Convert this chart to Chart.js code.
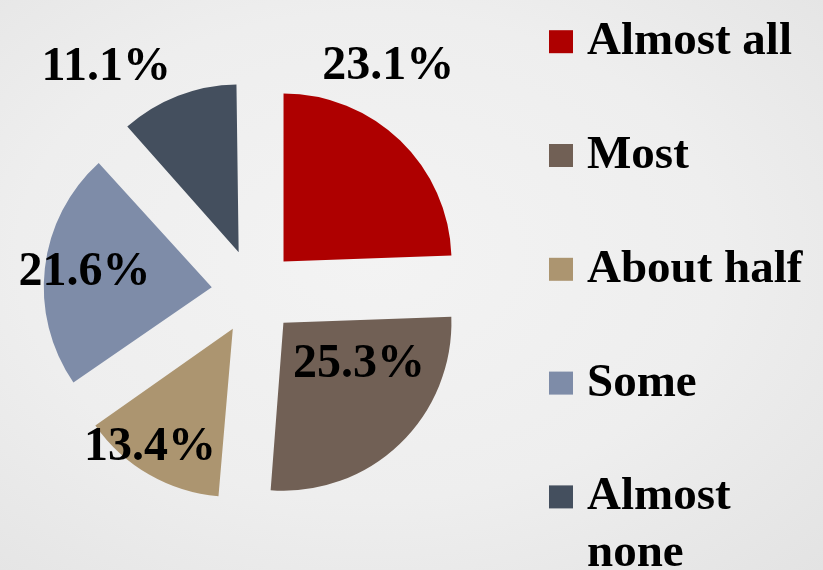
<!DOCTYPE html>
<html>
<head>
<meta charset="utf-8">
<script src="https://cdn.jsdelivr.net/npm/chart.js@4/dist/chart.umd.min.js"></script>
<style>
  html, body { margin: 0; padding: 0; }
  body {
    width: 823px; height: 570px; overflow: hidden;
    background: radial-gradient(ellipse at 45% 45%, #f3f3f3 0%, #eeeeee 55%, #e3e3e3 100%);
  }
  #wrap { position: relative; width: 823px; height: 570px; }
</style>
</head>
<body>
<div id="wrap"><canvas id="c" width="823" height="570"></canvas></div>
<script>
// ---- data ----
const categories = ["Almost all", "Most", "About half", "Some", "Almost none"];
const percentages = [23.1, 25.3, 13.4, 21.6, 11.1];
const legendLabels = [["Almost all"], ["Most"], ["About half"], ["Some"], ["Almost", "none"]];
const sliceColors = ["#AE0000", "#716055", "#AC9570", "#7E8CA8", "#444F5E"];

// ---- layout / style config ----
const LABEL_FONT = 'bold 48px "Liberation Serif", "Times New Roman", serif';
const LEGEND_FONT = 'bold 47px "Liberation Serif", "Times New Roman", serif';
const PIE_RADIUS = 168;
const EXPLODE = 170; // Chart.js translates arcs by offset/4
// label placement relative to pie centre: [radius factor, angle shift in degrees]
const labelPlacement = [[1.56, -13.2], [0.76, -11.6], [1.116, 3.8], [1.016, 0.1], [1.60, -12.2]];

const radiusFix = {
  id: 'radiusFix',
  afterDatasetsUpdate(chart) {
    const meta = chart.getDatasetMeta(0);
    meta.data.forEach(el => {
      const circ = el.endAngle - el.startAngle;
      const off = (el.options.offset || 0) / 4;
      const fix = 1 - Math.sin(Math.min(Math.PI, circ));
      el.outerRadius = PIE_RADIUS - off * fix;
    });
  }
};

const pctLabels = {
  id: 'pctLabels',
  afterDatasetsDraw(chart) {
    const ctx = chart.ctx;
    const meta = chart.getDatasetMeta(0);
    const vals = chart.data.datasets[0].data;
    ctx.save();
    ctx.font = LABEL_FONT;
    ctx.fillStyle = '#000';
    ctx.textAlign = 'center';
    ctx.textBaseline = 'middle';
    meta.data.forEach((el, i) => {
      const mid = (el.startAngle + el.endAngle) / 2 + labelPlacement[i][1] * Math.PI / 180;
      const r = labelPlacement[i][0] * PIE_RADIUS;
      const x = el.x + Math.cos(mid) * r;
      const y = el.y + Math.sin(mid) * r;
      ctx.fillText(vals[i].toFixed(1) + '%', x, y);
    });
    ctx.restore();
  }
};

const sideLegend = {
  id: 'sideLegend',
  afterDraw(chart) {
    const ctx = chart.ctx;
    const ds = chart.data.datasets[0];
    const x0 = 549, boxW = 24, boxH = 23, textX = 587;
    const firstCenter = 41.7, step = 113.8, lineH = 56.5;
    ctx.save();
    ctx.font = LEGEND_FONT;
    ctx.textAlign = 'left';
    ctx.textBaseline = 'alphabetic';
    legendLabels.forEach((lines, i) => {
      const cy = firstCenter + i * step;
      ctx.fillStyle = ds.backgroundColor[i];
      ctx.fillRect(x0, cy - boxH / 2, boxW, boxH);
      ctx.fillStyle = '#000';
      lines.forEach((t, k) => ctx.fillText(t, textX, cy + 12.5 + k * lineH));
    });
    ctx.restore();
  }
};

new Chart(document.getElementById('c'), {
  type: 'pie',
  data: {
    labels: categories,
    datasets: [{
      data: percentages,
      backgroundColor: sliceColors,
      borderWidth: 0,
      offset: EXPLODE
    }]
  },
  options: {
    responsive: false,
    animation: false,
    radius: PIE_RADIUS,
    layout: { padding: { left: 0, right: 315, top: 14, bottom: 0 } },
    plugins: {
      legend: { display: false },
      tooltip: { enabled: false }
    },
    events: []
  },
  plugins: [radiusFix, pctLabels, sideLegend]
});
</script>
</body>
</html>
